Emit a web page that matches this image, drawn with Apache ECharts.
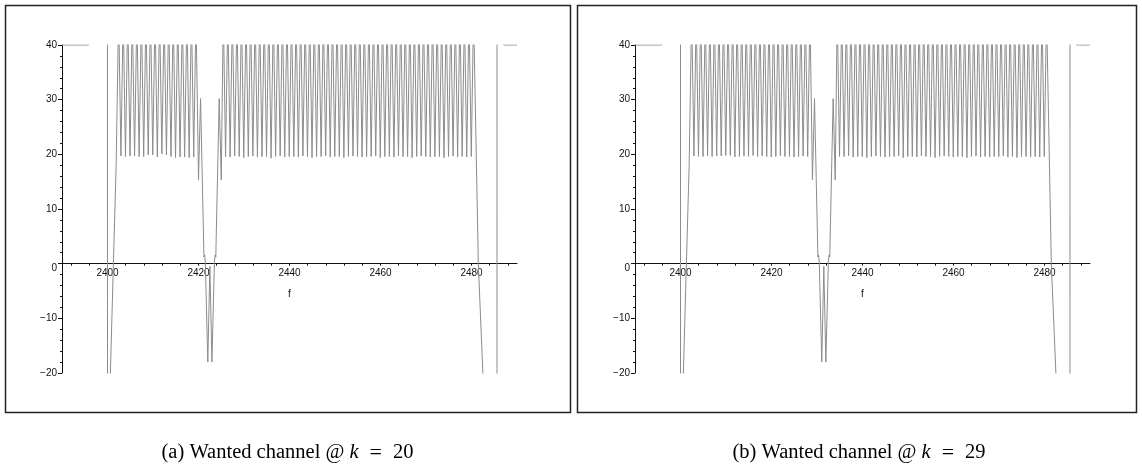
<!DOCTYPE html>
<html>
<head>
<meta charset="utf-8">
<script src="https://cdn.jsdelivr.net/npm/echarts@6/dist/echarts.min.js"></script>
<style>
html,body{margin:0;padding:0;background:#fff;}
#c{width:1142px;height:468px;}
</style>
</head>
<body>
<div id="c"></div>
<script>
// ---------- data ----------
const xTicks = [2392,2396,2400,2404,2408,2412,2416,2420,2424,2428,2432,2436,2440,2444,2448,2452,2456,2460,2464,2468,2472,2476,2480,2484,2488];
const xLabels = [2400,2420,2440,2460,2480];
const PEAK = 46; // comb peaks rise above the 40 limit (clipped)

const edgeLeft = [[2390,40],[2395.8,40],[2397,90],[2399.97,400],[2400.03,-400],[2400.3,-30],[2401.9,18]];
const edgeRight = [[2481.5,0],[2482.6,-22],[2485.57,-400],[2485.63,400],[2486.5,60],[2487.1,40],[2490,40]];

// panel (a): wanted channel k = 20
const peakFA1 = [2402.45,2403.45,2404.45,2405.45,2406.45,2407.45,2408.45,2409.45,2410.45,2411.45,2412.45,2413.45,2414.45,2415.45,2416.45,2417.45,2418.45,2419.45];
const troughFA1 = [2402.95,2403.95,2404.95,2405.95,2406.95,2407.95,2408.95,2409.95,2410.95,2411.95,2412.95,2413.95,2414.95,2415.95,2416.95,2417.95,2418.95];
const troughVA1 = [19.7,19.6,19.7,19.7,19.6,19.6,19.9,19.9,19.5,20.1,19.9,19.6,19.4,19.5,19.5,19.4,19.5];
const dipA = [[2420.0,15.3],[2420.45,30.2],[2421.2,1.2],[2421.35,1.6],[2421.5,0.3],[2422.05,-18],[2422.5,-0.5],[2422.95,-18],[2423.5,0.3],[2423.65,1.6],[2423.8,1.2],[2424.55,30.2],[2425.0,15.3]];
const peakFA2 = [2425.45,2426.45,2427.45,2428.45,2429.45,2430.45,2431.45,2432.45,2433.45,2434.45,2435.45,2436.45,2437.45,2438.45,2439.45,2440.45,2441.45,2442.45,2443.45,2444.45,2445.45,2446.45,2447.45,2448.45,2449.45,2450.45,2451.45,2452.45,2453.45,2454.45,2455.45,2456.45,2457.45,2458.45,2459.45,2460.45,2461.45,2462.45,2463.45,2464.45,2465.45,2466.45,2467.45,2468.45,2469.45,2470.45,2471.45,2472.45,2473.45,2474.45,2475.45,2476.45,2477.45,2478.45,2479.45,2480.45];
const troughFA2 = [2425.95,2426.95,2427.95,2428.95,2429.95,2430.95,2431.95,2432.95,2433.95,2434.95,2435.95,2436.95,2437.95,2438.95,2439.95,2440.95,2441.95,2442.95,2443.95,2444.95,2445.95,2446.95,2447.95,2448.95,2449.95,2450.95,2451.95,2452.95,2453.95,2454.95,2455.95,2456.95,2457.95,2458.95,2459.95,2460.95,2461.95,2462.95,2463.95,2464.95,2465.95,2466.95,2467.95,2468.95,2469.95,2470.95,2471.95,2472.95,2473.95,2474.95,2475.95,2476.95,2477.95,2478.95,2479.95];
const troughVA2 = [19.6,19.5,19.7,19.6,19.4,19.6,19.7,19.5,19.6,19.6,19.3,19.6,19.7,19.5,19.6,19.6,19.5,19.7,19.6,19.4,19.6,19.6,19.7,19.5,19.6,19.6,19.4,19.6,19.7,19.6,19.5,19.6,19.6,19.7,19.4,19.6,19.6,19.5,19.7,19.6,19.6,19.4,19.6,19.7,19.6,19.5,19.6,19.6,19.4,19.6,19.7,19.5,19.6,19.5,19.6];

// panel (b): wanted channel k = 29
const peakFB1 = [2402.45,2403.45,2404.45,2405.45,2406.45,2407.45,2408.45,2409.45,2410.45,2411.45,2412.45,2413.45,2414.45,2415.45,2416.45,2417.45,2418.45,2419.45,2420.45,2421.45,2422.45,2423.45,2424.45,2425.45,2426.45,2427.45,2428.45];
const troughFB1 = [2402.95,2403.95,2404.95,2405.95,2406.95,2407.95,2408.95,2409.95,2410.95,2411.95,2412.95,2413.95,2414.95,2415.95,2416.95,2417.95,2418.95,2419.95,2420.95,2421.95,2422.95,2423.95,2424.95,2425.95,2426.95,2427.95];
const troughVB1 = [19.7,19.6,19.6,19.7,19.6,19.7,19.7,19.8,19.8,19.5,19.6,19.7,19.6,19.8,19.6,19.7,19.6,19.5,19.6,19.7,19.6,19.6,19.5,19.6,19.7,19.6];
const dipB = [[2429.0,15.3],[2429.45,30.2],[2430.2,1.2],[2430.35,1.6],[2430.5,0.3],[2431.05,-18],[2431.5,-0.5],[2431.95,-18],[2432.5,0.3],[2432.65,1.6],[2432.8,1.2],[2433.55,30.2],[2434.0,15.3]];
const peakFB2 = [2434.45,2435.45,2436.45,2437.45,2438.45,2439.45,2440.45,2441.45,2442.45,2443.45,2444.45,2445.45,2446.45,2447.45,2448.45,2449.45,2450.45,2451.45,2452.45,2453.45,2454.45,2455.45,2456.45,2457.45,2458.45,2459.45,2460.45,2461.45,2462.45,2463.45,2464.45,2465.45,2466.45,2467.45,2468.45,2469.45,2470.45,2471.45,2472.45,2473.45,2474.45,2475.45,2476.45,2477.45,2478.45,2479.45,2480.45];
const troughFB2 = [2434.95,2435.95,2436.95,2437.95,2438.95,2439.95,2440.95,2441.95,2442.95,2443.95,2444.95,2445.95,2446.95,2447.95,2448.95,2449.95,2450.95,2451.95,2452.95,2453.95,2454.95,2455.95,2456.95,2457.95,2458.95,2459.95,2460.95,2461.95,2462.95,2463.95,2464.95,2465.95,2466.95,2467.95,2468.95,2469.95,2470.95,2471.95,2472.95,2473.95,2474.95,2475.95,2476.95,2477.95,2478.95,2479.95];
const troughVB2 = [19.6,19.6,19.7,19.5,19.6,19.6,19.4,19.6,19.7,19.6,19.5,19.6,19.6,19.7,19.4,19.6,19.6,19.5,19.7,19.6,19.6,19.4,19.6,19.7,19.6,19.5,19.6,19.6,19.4,19.6,19.7,19.5,19.6,19.5,19.6,19.6,19.7,19.5,19.6,19.4,19.6,19.6,19.5,19.6,19.5,19.6];

const captionA = ['(a) Wanted channel @ ', 'k', '=', '20'];
const captionB = ['(b) Wanted channel @ ', 'k', '=', '29'];

// ---------- build tables ----------
function comb(pf, tf, tv) {
  const out = [];
  for (let i = 0; i < pf.length; i++) {
    out.push([pf[i], PEAK]);
    if (i < tf.length) out.push([tf[i], tv[i]]);
  }
  return out;
}
const dataA = [].concat(edgeLeft, comb(peakFA1, troughFA1, troughVA1), dipA, comb(peakFA2, troughFA2, troughVA2), edgeRight);
const dataB = [].concat(edgeLeft, comb(peakFB1, troughFB1, troughVB1), dipB, comb(peakFB2, troughFB2, troughVB2), edgeRight);

const LINE = '#8c8c8c';
const AX = '#111';
const FONT = '"Liberation Sans", Arial, Helvetica, sans-serif';
const SERIF = '"Liberation Serif", "Times New Roman", serif';
const GRID_TOP = 45, GRID_H = 328, Y_MIN = -20, Y_MAX = 40;
// move the x axis up to the y = 0 line
const X_OFFSET = -GRID_H * (0 - Y_MIN) / (Y_MAX - Y_MIN);

function xAxisCfg(i) {
  return {
    gridIndex: i, type: 'value', min: 2390, max: 2490, position: 'bottom', offset: X_OFFSET,
    name: 'f', nameLocation: 'middle', nameGap: 26,
    nameTextStyle: { fontSize: 10, color: AX, fontFamily: FONT },
    axisLine: { onZero: false, lineStyle: { color: AX, width: 1 } },
    axisTick: { show: true, inside: false, length: 2, customValues: xTicks, lineStyle: { color: AX } },
    axisLabel: { customValues: xLabels, fontSize: 10, color: AX, fontFamily: FONT, margin: 5, formatter: v => String(v) },
    splitLine: { show: false }
  };
}
function yAxisCfg(i) {
  return {
    gridIndex: i, type: 'value', min: Y_MIN, max: Y_MAX, interval: 10,
    axisLine: { show: true, onZero: false, lineStyle: { color: AX, width: 1 } },
    axisTick: { show: true, length: 4, lineStyle: { color: AX } },
    minorTick: { show: true, splitNumber: 5, length: 2, lineStyle: { color: AX } },
    axisLabel: {
      fontSize: 10, color: AX, fontFamily: FONT, margin: 5,
      formatter: v => v === 0 ? '{z|0}' : String(v).replace('-', '\u2212'),
      rich: { z: { fontSize: 10, color: AX, fontFamily: FONT, padding: [9, 0, 0, 0] } }
    },
    splitLine: { show: false }
  };
}
function seriesCfg(i, d) {
  return {
    type: 'line', xAxisIndex: i, yAxisIndex: i, data: d,
    showSymbol: false, symbol: 'none', clip: true, sampling: null,
    lineStyle: { color: LINE, width: 1 }, silent: true
  };
}
function caption(parts, cx) {
  return {
    type: 'text', x: cx, y: 453, silent: true,
    style: {
      text: '{n|' + parts[0] + '}{i|' + parts[1] + '}{e|' + parts[2] + '}{n|' + parts[3] + '}',
      rich: {
        n: { fontFamily: SERIF, fontSize: 20.5, fill: '#000' },
        i: { fontFamily: SERIF, fontSize: 20.5, fontStyle: 'italic', fill: '#000' },
        e: { fontFamily: SERIF, fontSize: 22, fill: '#000', padding: [0, 11, 0, 11] }
      },
      align: 'center', verticalAlign: 'middle'
    }
  };
}

const chart = echarts.init(document.getElementById('c'), null, { renderer: 'canvas' });
chart.setOption({
  animation: false,
  backgroundColor: '#fff',
  grid: [
    { left: 62, top: GRID_TOP, width: 455, height: GRID_H },
    { left: 635, top: GRID_TOP, width: 455, height: GRID_H }
  ],
  xAxis: [xAxisCfg(0), xAxisCfg(1)],
  yAxis: [yAxisCfg(0), yAxisCfg(1)],
  series: [seriesCfg(0, dataA), seriesCfg(1, dataB)],
  graphic: [
    { type: 'rect', shape: { x: 5.5, y: 5.5, width: 565, height: 407 }, style: { fill: 'none', stroke: '#222', lineWidth: 1.5 }, silent: true },
    { type: 'rect', shape: { x: 577.5, y: 5.5, width: 559, height: 407 }, style: { fill: 'none', stroke: '#222', lineWidth: 1.5 }, silent: true },
    caption(captionA, 287.5),
    caption(captionB, 859)
  ]
});
</script>
</body>
</html>
